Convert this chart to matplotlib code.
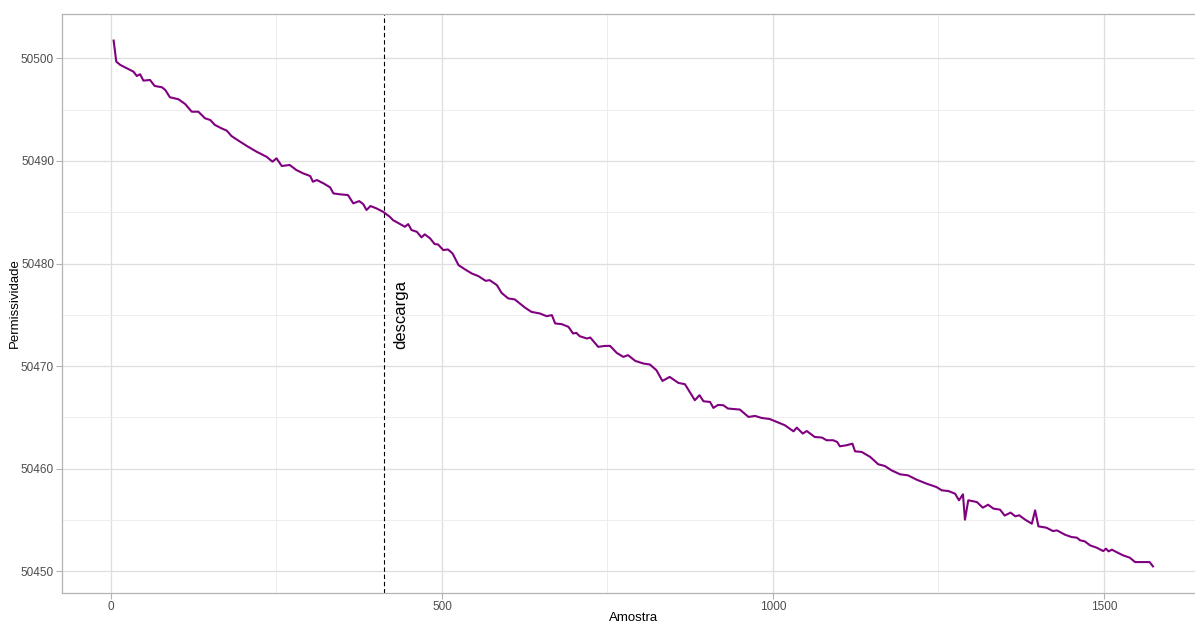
import matplotlib.pyplot as plt
from matplotlib.ticker import MultipleLocator

# permissividade ao longo das amostras (leitura do sensor)
amostra = [
    4, 8, 14, 24, 34, 39, 44, 49, 59, 66, 77, 82, 89, 102, 112, 122, 132, 142,
    150, 157, 167, 175, 182, 195, 207, 220, 235, 244, 250, 258, 270, 280, 290,
    301, 305, 311, 321, 331, 336, 346, 358, 366, 375, 381, 386, 392, 401, 411,
    421, 426, 444, 449, 454, 462, 469, 474, 482, 489, 494, 502, 509, 516, 525,
    535, 545, 555, 566, 572, 583, 590, 600, 610, 625, 635, 648, 658, 666, 671,
    681, 691, 698, 703, 708, 719, 724, 736, 746, 754, 764, 774, 781, 792, 804,
    814, 824, 833, 844, 857, 867, 882, 889, 895, 905, 910, 917, 925, 932, 950,
    963, 973, 983, 995, 1006, 1018, 1031, 1036, 1045, 1051, 1063, 1074, 1081,
    1091, 1097, 1101, 1111, 1120, 1124, 1134, 1147, 1159, 1169, 1179, 1192,
    1204, 1217, 1232, 1247, 1255, 1265, 1275, 1281, 1287, 1290, 1295, 1308,
    1317, 1325, 1333, 1343, 1350, 1359, 1366, 1372, 1381, 1391, 1396, 1401,
    1413, 1423, 1429, 1441, 1451, 1459, 1464, 1471, 1479, 1489, 1499, 1503,
    1507, 1512, 1519, 1529, 1539, 1547, 1569, 1574,
]
permissividade = [
    50501.72, 50499.67, 50499.35, 50499.02, 50498.69, 50498.27, 50498.44,
    50497.82, 50497.88, 50497.30, 50497.17, 50496.91, 50496.20, 50496.00,
    50495.54, 50494.79, 50494.79, 50494.15, 50493.98, 50493.50, 50493.17,
    50492.94, 50492.42, 50491.87, 50491.38, 50490.89, 50490.40, 50489.92,
    50490.25, 50489.50, 50489.60, 50489.11, 50488.79, 50488.52, 50487.97,
    50488.13, 50487.81, 50487.42, 50486.83, 50486.74, 50486.67, 50485.86,
    50486.08, 50485.79, 50485.21, 50485.60, 50485.37, 50485.04, 50484.56,
    50484.23, 50483.58, 50483.84, 50483.26, 50483.09, 50482.55, 50482.84,
    50482.45, 50481.89, 50481.86, 50481.31, 50481.37, 50480.98, 50479.84,
    50479.42, 50479.03, 50478.77, 50478.31, 50478.38, 50477.89, 50477.14,
    50476.60, 50476.50, 50475.72, 50475.29, 50475.13, 50474.87, 50474.97,
    50474.16, 50474.09, 50473.83, 50473.18, 50473.24, 50472.92, 50472.69,
    50472.79, 50471.88, 50471.97, 50471.97, 50471.29, 50470.90, 50471.07,
    50470.51, 50470.26, 50470.16, 50469.60, 50468.56, 50468.95, 50468.37,
    50468.24, 50466.68, 50467.17, 50466.58, 50466.51, 50465.93, 50466.22,
    50466.19, 50465.87, 50465.77, 50465.05, 50465.15, 50464.95, 50464.85,
    50464.56, 50464.24, 50463.65, 50464.01, 50463.43, 50463.68, 50463.10,
    50463.04, 50462.78, 50462.78, 50462.61, 50462.19, 50462.29, 50462.45,
    50461.70, 50461.64, 50461.15, 50460.44, 50460.27, 50459.85, 50459.46,
    50459.36, 50458.94, 50458.55, 50458.22, 50457.90, 50457.83, 50457.58,
    50456.93, 50457.51, 50455.04, 50456.93, 50456.76, 50456.21, 50456.50,
    50456.12, 50456.02, 50455.44, 50455.73, 50455.37, 50455.47, 50455.04,
    50454.65, 50455.95, 50454.39, 50454.26, 50453.93, 50454.00, 50453.58,
    50453.35, 50453.29, 50453.03, 50452.93, 50452.54, 50452.31, 50451.98,
    50452.22, 50451.95, 50452.12, 50451.88, 50451.56, 50451.34, 50450.91,
    50450.91, 50450.49,
]
descarga_x = 412
rotulo = "descarga"
rotulo_x, rotulo_y = 437, 50475.0

plt.rcParams['font.family'] = ['Liberation Sans', 'DejaVu Sans']

fig = plt.figure(figsize=(11.95, 6.24), dpi=100)
ax = fig.add_axes([0.0516, 0.0502, 0.9567, 0.9269])

ax.plot(amostra, permissividade, color='#800080', lw=1.5, zorder=3)
ax.axvline(descarga_x, color='black', lw=0.8, ls=(0, (4, 2.5)), zorder=2)
ax.text(rotulo_x, rotulo_y, rotulo, rotation=90, fontsize=12,
        ha='center', va='center', color='black')

# limites com 5% de folga, como no ggplot
xr = max(amostra) - min(amostra)
yr = max(permissividade) - min(permissividade)
ax.set_xlim(min(amostra) - 0.05 * xr, max(amostra) + 0.05 * xr)
ax.set_ylim(min(permissividade) - 0.05 * yr, max(permissividade) + 0.05 * yr)

ax.xaxis.set_major_locator(MultipleLocator(500))
ax.xaxis.set_minor_locator(MultipleLocator(250))
ax.yaxis.set_major_locator(MultipleLocator(10))
ax.yaxis.set_minor_locator(MultipleLocator(5))

ax.grid(which='major', color='#DEDEDE', lw=0.9)
ax.grid(which='minor', color='#EDEDED', lw=0.7)
ax.set_axisbelow(True)

for s in ax.spines.values():
    s.set_color('#B3B3B3')
    s.set_linewidth(0.9)

ax.tick_params(which='major', length=4, width=0.8, color='#B3B3B3',
               labelsize=8.5, labelcolor='#4D4D4D')
ax.tick_params(axis='y', pad=1.5)
ax.tick_params(axis='x', pad=2)
ax.tick_params(which='minor', length=0)

ax.set_xlabel('Amostra', fontsize=9.5, labelpad=-1)
ax.set_ylabel('Permissividade', fontsize=9.5, labelpad=0)

fig.savefig('out.png', dpi=100)
